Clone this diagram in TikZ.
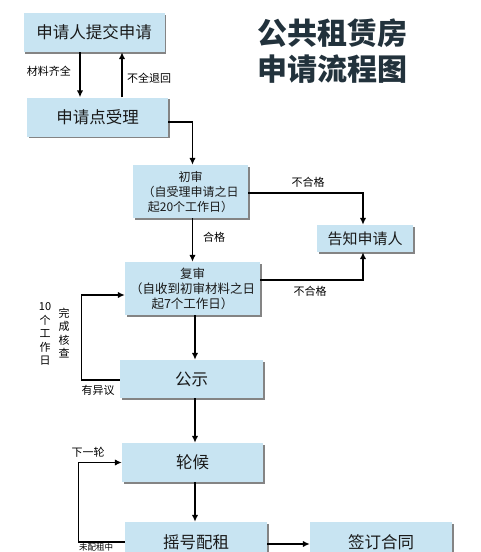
\documentclass[tikz,border=0pt]{standalone}
\usepackage{fontspec}
\setmainfont{Noto Sans CJK SC}
\usetikzlibrary{positioning,arrows.meta,shadows}
\definecolor{boxblue}{HTML}{C8E4F2}
\definecolor{titleink}{HTML}{22323C}

\begin{document}
\begin{tikzpicture}[
  x=1pt, y=-1pt,
  block/.style={fill=boxblue, drop shadow={shadow xshift=1.5pt, shadow yshift=-1.5pt, fill=black!60, opacity=0.8}, minimum width=141pt, minimum height=39pt, align=center, inner sep=1pt, text=black!90, font=\fontsize{16.5}{18}\selectfont},
  small/.style={font=\fontsize{12}{15}\selectfont},
  arrow/.style={-{Latex[length=2.4mm, width=2.2mm]}, line width=1.3pt},
  tag/.style={font=\fontsize{11}{13.5}\selectfont, inner sep=1pt, align=center}
]
\clip (0,0) rectangle (480,552);
\fill[white] (0,0) rectangle (480,552);

% title
\node[font=\fontsize{30}{36}\selectfont\bfseries, text=titleink, align=center] (title) at (332,51) {公共租赁房\\申请流程图};

% boxes
\node[block] (submit) at (94,32.5) {申请人提交申请};
\node[block] (accept) at (97.5,117) {申请点受理};
\node[block, small, minimum width=115pt, minimum height=53pt] (first) at (190.5,191.5) {初审\\（自受理申请之日\\起20个工作日）};
\node[block, small, font=\fontsize{12.5}{15}\selectfont, minimum width=135pt, minimum height=53pt] (second) at (192.5,288.5) {复审\\（自收到初审材料之日\\起7个工作日）};
\node[block, minimum width=96pt, minimum height=27pt, font=\fontsize{15}{16}\selectfont] (notify) at (365,238.5) {告知申请人};
\node[block, minimum width=143pt, minimum height=38pt] (publish) at (191.5,379) {公示};
\node[block] (wait) at (192.5,462.5) {轮候};
\node[block, minimum width=142pt, minimum height=40pt] (lottery) at (196,542) {摇号配租};
\node[block, minimum width=142pt, minimum height=40pt] (sign) at (381,542) {签订合同};

% arrows
\draw[arrow] ([xshift=-14pt]submit.south) -- ([xshift=-14pt]submit.south |- accept.north);
\draw[arrow] ([xshift=28pt]submit.south |- accept.north) -- ([xshift=28pt]submit.south);
\draw[arrow] ([yshift=-5pt]accept.east) -| ([xshift=2pt]first.north);
\draw[arrow] ([xshift=2pt]first.south) -- ([xshift=2pt]first.south |- second.north);
\draw[arrow] ([yshift=-1.5pt]first.east) -| ([xshift=-2pt]notify.north);
\draw[arrow] ([yshift=8.5pt]second.east) -| ([xshift=-2pt]notify.south);
\draw[arrow] ([xshift=2.5pt]second.south) -- ([xshift=2.5pt]second.south |- publish.north);
\draw[arrow] ([xshift=3.5pt]publish.south) -- ([xshift=3.5pt]publish.south |- wait.north);
\draw[arrow] ([xshift=2.5pt]wait.south) -- ([xshift=2.5pt]wait.south |- lottery.north);
\draw[arrow] ([yshift=-2pt]lottery.east) -- ([yshift=-2pt]lottery.east -| sign.west);
\draw[arrow] ([yshift=-1pt]publish.west) -- ++(-38,0) |- ([yshift=-6.5pt]second.west);
\draw[arrow] (lottery.west) -- ++(-46,0) |- (wait.west);

% labels
\node[tag] (l1) at (49,71) {材料齐全};
\node[tag] (l2) at (149,78) {不全退回};
\node[tag] (l3) at (214,237) {合格};
\node[tag] (l4) at (308,182) {不合格};
\node[tag] (l5) at (310,291) {不合格};
\node[tag] (l6) at (45,334) {10\\个\\工\\作\\日};
\node[tag] (l7) at (64,333) {完\\成\\核\\查};
\node[tag] (l8) at (98,390) {有异议};
\node[tag] (l9) at (88,452) {下一轮};
\node[tag, font=\fontsize{8.5}{10}\selectfont] (l10) at (96,547.5) {未配租中};
\end{tikzpicture}
\end{document}
